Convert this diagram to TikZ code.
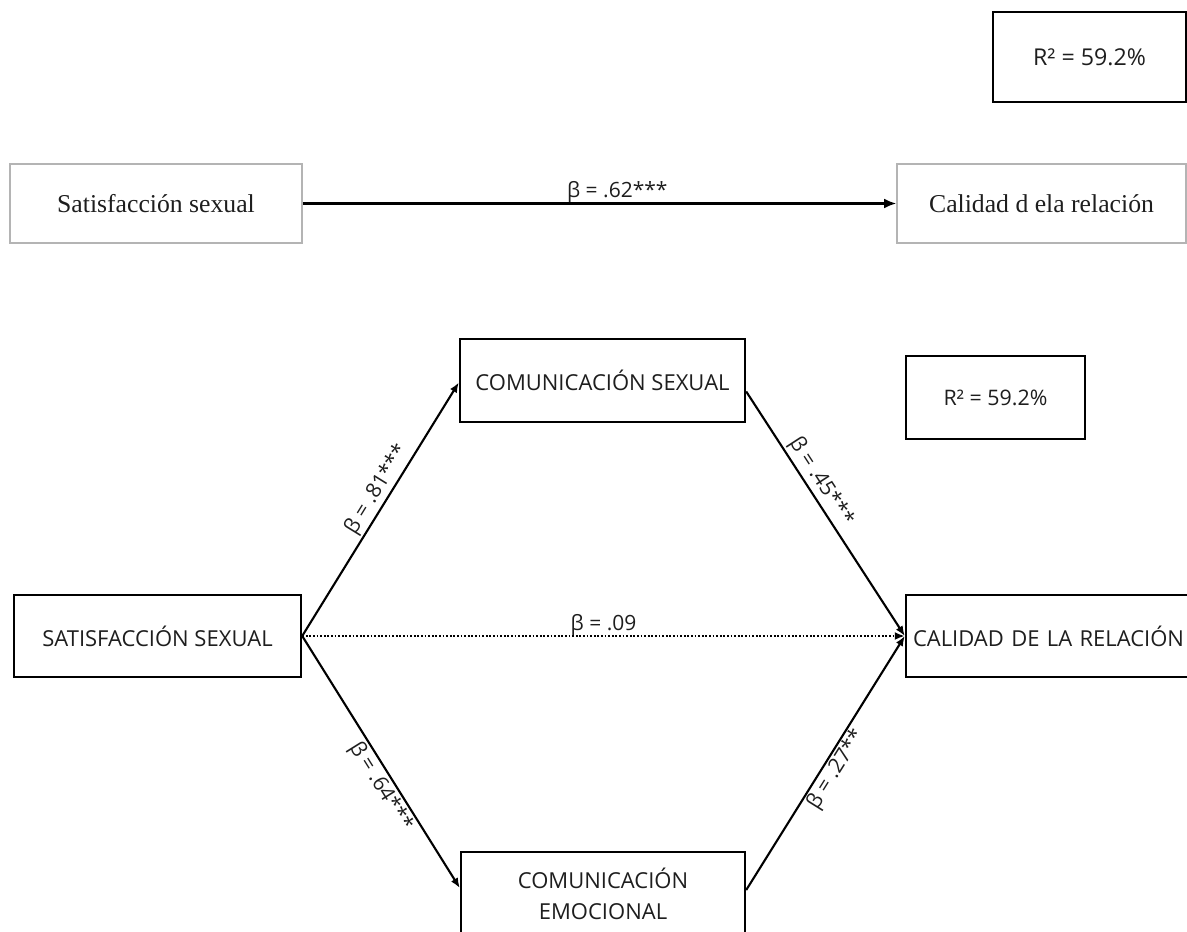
\documentclass[tikz,border=0pt]{standalone}
\usepackage{fontspec}
\setmainfont{Open Sans}
\newfontfamily\seriffam{Liberation Serif}
\usetikzlibrary{arrows.meta,calc}
\definecolor{txt}{HTML}{1E1E1E}
\definecolor{lightframe}{HTML}{B4B4B4}
\tikzset{
  softbox/.style={draw=lightframe, line width=0.8pt, inner sep=0pt, text=txt, font=\seriffam\fontsize{12.85}{15}\selectfont},
  hardbox/.style={draw=black, line width=1.2pt, inner sep=0pt, text=txt, font=\fontsize{11}{15.5}\selectfont, align=center},
  rbox/.style={draw=black, line width=1.3pt, inner sep=0pt, text=txt},
  toparrow/.style={line width=1.4pt, -{Latex[length=6pt,width=5pt]}},
  pathline/.style={line width=1.05pt, -{Latex[length=5pt,width=4pt]}},
  dotline/.style={line width=1.4pt, dash pattern=on 0.9pt off 0.9pt, -{Latex[length=5pt,width=4pt]}},
  lbl/.style={text=txt, font=\fontsize{10.5}{12}\selectfont, inner sep=1pt}
}
\begin{document}
\begin{tikzpicture}[x=0.5pt,y=-0.5pt]
\useasboundingbox (0,0) rectangle (1187,931);
\clip (0,0) rectangle (1187,931);

% top model
\node[rbox, minimum width=193*0.5pt, minimum height=90*0.5pt, font=\fontsize{11.6}{13}\selectfont] (r2a) at (1089.5,57) {R² = 59.2\%};
\node[softbox, minimum width=292*0.5pt, minimum height=79*0.5pt] (sat1) at (156,203.5) {Satisfacción sexual};
\node[softbox, minimum width=289*0.5pt, minimum height=79*0.5pt] (cal1) at (1041.5,203.5) {Calidad d ela relación};
\draw[toparrow] (sat1.east) -- (cal1.west) node[lbl, pos=0.53, anchor=base, yshift=3pt, inner sep=0pt] {β = .62***};

% mediation model
\node[hardbox, minimum width=285*0.5pt, minimum height=83*0.5pt] (comsex) at (602.5,380.5) {COMUNICACIÓN SEXUAL};
\node[rbox, minimum width=179*0.5pt, minimum height=83*0.5pt, font=\fontsize{10.7}{13}\selectfont] (r2b) at (995.5,397.5) {R² = 59.2\%};
\node[hardbox, minimum width=287*0.5pt, minimum height=82*0.5pt] (sat2) at (157.5,636) {SATISFACCIÓN SEXUAL};
\node[hardbox, minimum width=288*0.5pt, minimum height=82*0.5pt, text width=280*0.5pt, align=left] (cal2) at (1050,636) {\hspace*{1.5pt}CALIDAD DE LA RELACIÓN};
\node[hardbox, minimum width=284*0.5pt, minimum height=84*0.5pt] (comemo) at (603,894) {COMUNICACIÓN\\EMOCIONAL};

\draw[pathline] (sat2.east) -- ([yshift=-1pt]comsex.west) node[lbl, sloped, pos=0.55, above] {β = .81***};
\draw[pathline] ($(comsex.east)+(0,11)$) -- (cal2.west) node[lbl, sloped, pos=0.4, above] {β = .45***};
\draw[dotline] (sat2.east) -- (cal2.west) node[lbl, pos=0.5, anchor=base, yshift=3pt, inner sep=0pt] {β = .09};
\draw[pathline] (sat2.east) -- ([yshift=3pt]comemo.west) node[lbl, sloped, pos=0.57, below] {β = .64***};
\draw[pathline] ($(comemo.east)+(0,-4)$) -- (cal2.west) node[lbl, sloped, pos=0.5, below, inner sep=0.5pt] {β = .27**};
\end{tikzpicture}
\end{document}
